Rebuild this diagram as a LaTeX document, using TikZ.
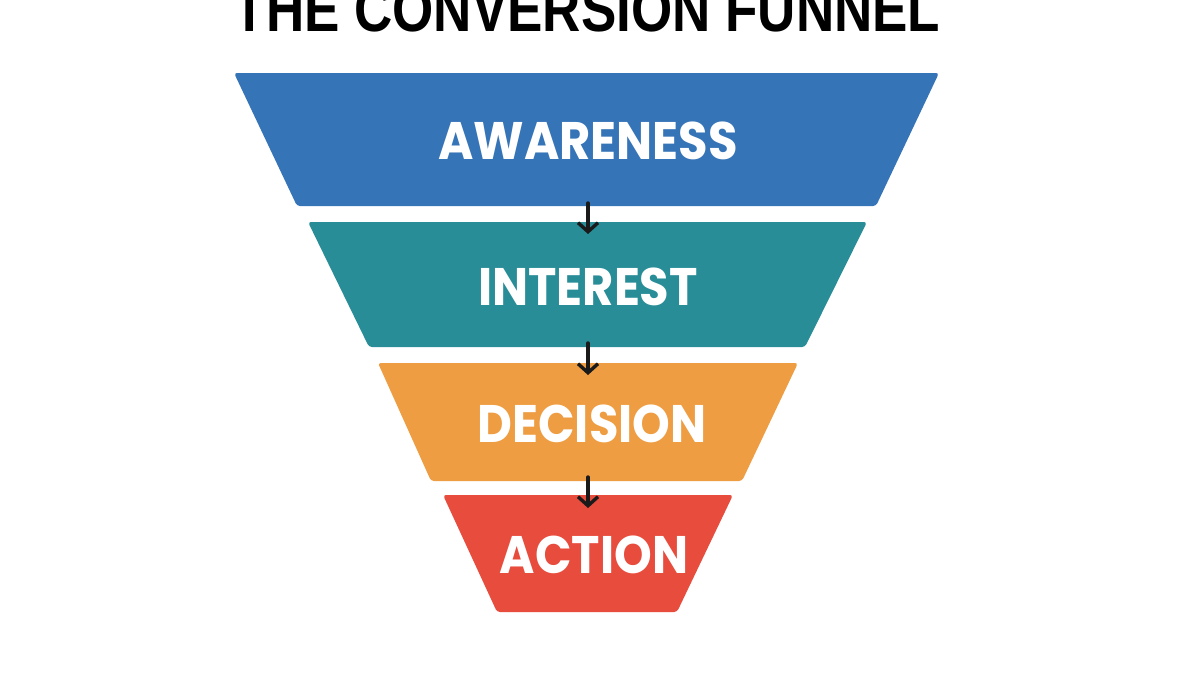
\documentclass[tikz,border=0pt]{standalone}
\usepackage{fontspec}
\usepackage{graphicx}
\usetikzlibrary{arrows.meta}
\newfontfamily\lblfont{Poppins}
\newfontfamily\ttlfont{Liberation Sans}
\definecolor{fblue}{RGB}{54,116,184}
\definecolor{fteal}{RGB}{41,141,152}
\definecolor{forange}{RGB}{238,157,66}
\definecolor{fred}{RGB}{231,76,60}
\definecolor{arrowdark}{RGB}{26,26,26}
\newcommand{\stagetext}[1]{\scalebox{1}[1.1]{#1}}
\tikzset{
  stage/.style={rounded corners=3pt},
  stagelabel/.style={text=white, font=\lblfont\bfseries\fontsize{48}{52}\selectfont, inner sep=0pt},
  flow/.style={draw=arrowdark, line width=3.4pt, line cap=round, line join=round,
    -{Straight Barb[length=9pt,width=20pt]}},
}
\begin{document}
\begin{tikzpicture}[x=1pt,y=-1pt]
\useasboundingbox (0,0) rectangle (1200,675);
\fill[white] (0,0) rectangle (1200,675);
% title
\node[anchor=base, inner sep=0pt] (title) at (587,31)
  {\scalebox{1}[1.2]{\ttlfont\bfseries\fontsize{53}{60}\selectfont THE CONVERSION FUNNEL}};
% stages
\fill[fblue, stage] (234,73) -- (939,73) -- (876,206) -- (297,206) -- cycle;
\fill[fteal, stage] (308,222) -- (867,222) -- (805,347) -- (369,347) -- cycle;
\fill[forange, stage] (378,363) -- (798,363) -- (742,481) -- (431,481) -- cycle;
\fill[fred, stage] (443,495) -- (733,495) -- (677,612) -- (497,612) -- cycle;
\node[stagelabel] (aw) at (588,141) {\stagetext{AWARENESS}};
\node[stagelabel] (in) at (588,287) {\stagetext{INTEREST}};
\node[stagelabel] (de) at (592,424) {\stagetext{DECISION}};
\node[stagelabel] (ac) at (594,555) {\stagetext{ACTION}};
% connector points
\coordinate (a1) at (588,203);
\coordinate (b1) at (588,234);
\coordinate (a2) at (588,343);
\coordinate (b2) at (588,375);
\coordinate (a3) at (588,477);
\coordinate (b3) at (588,508);
\draw[flow] (a1) -- (b1);
\draw[flow] (a2) -- (b2);
\draw[flow] (a3) -- (b3);
\end{tikzpicture}
\end{document}
